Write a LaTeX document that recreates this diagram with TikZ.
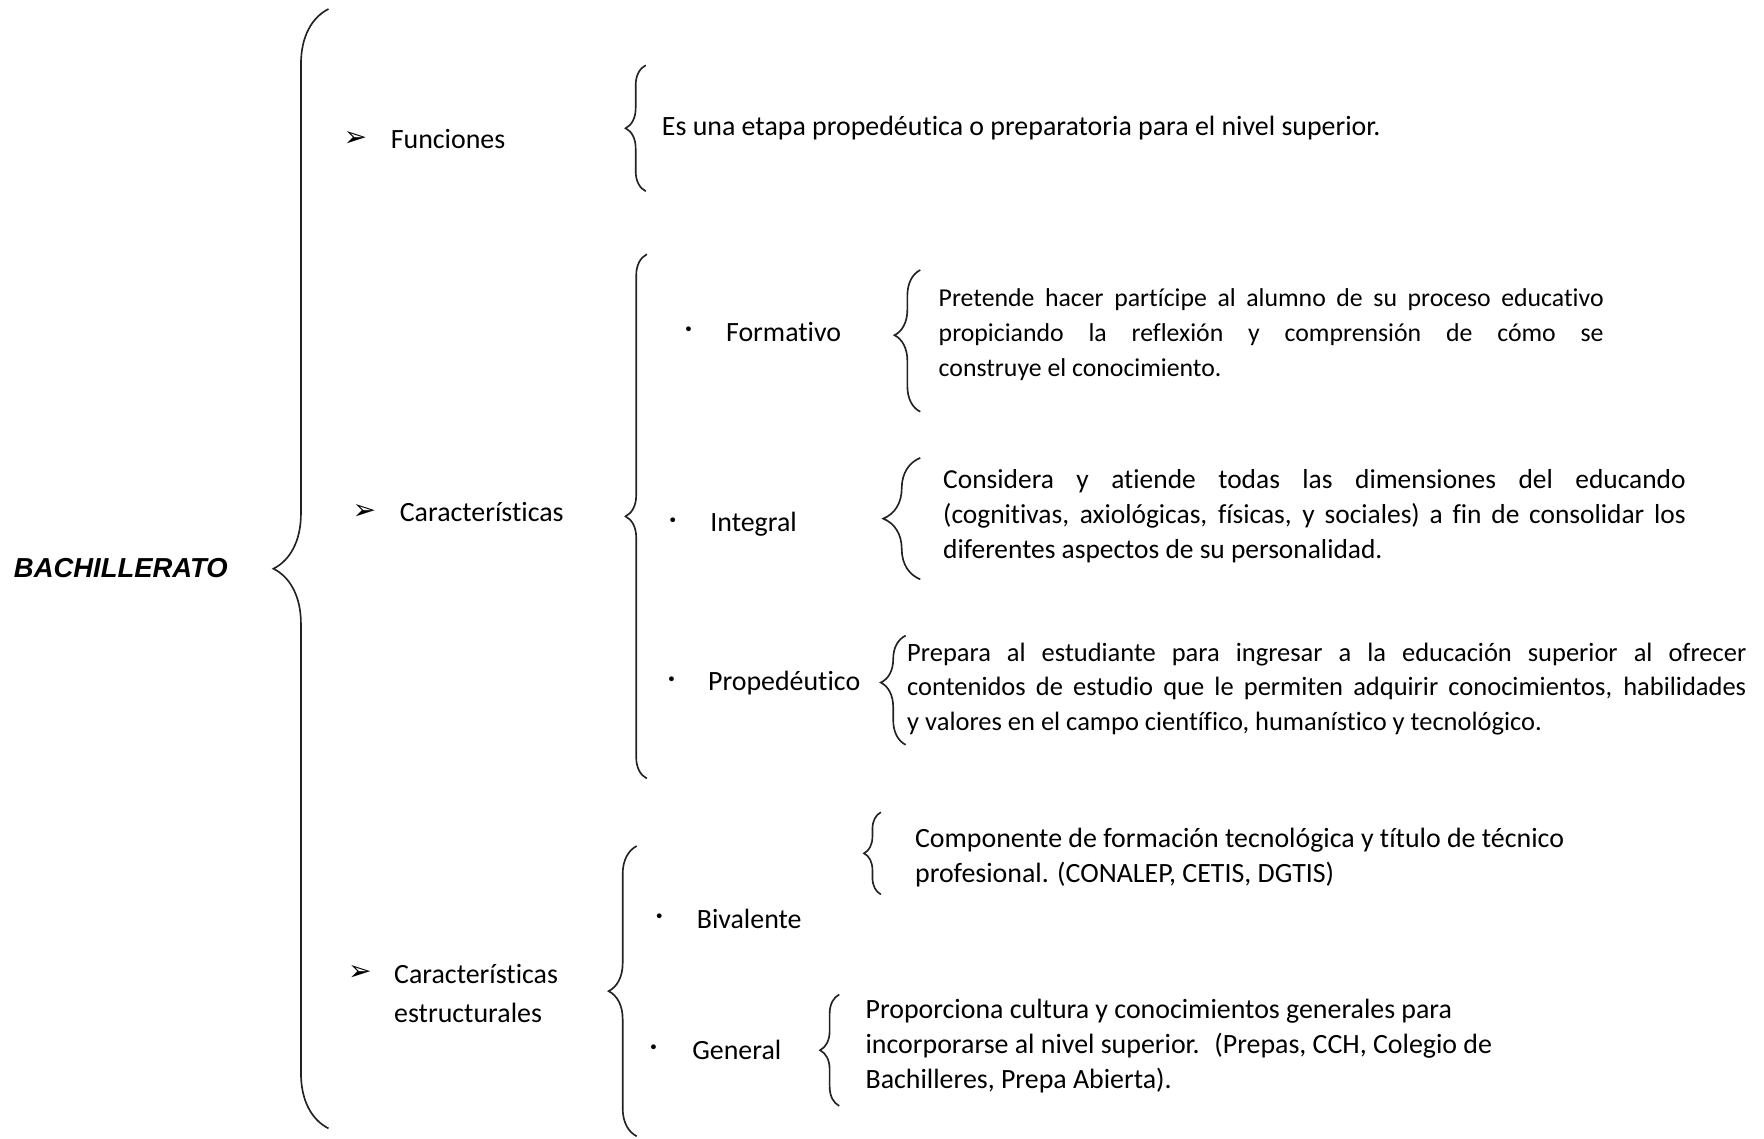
\documentclass[tikz,border=0pt]{standalone}
\usepackage{xcolor}
\usepackage{fontspec}
\setmainfont{Carlito}[Ligatures=CommonOff]
\newfontfamily\dingfont{DejaVu Sans}
\newfontfamily\titlefont{Liberation Sans}
\usepackage{tikz}
\usetikzlibrary{positioning, decorations.pathreplacing}
\definecolor{inkgray}{HTML}{222222}

\tikzset{
  brc/.style={draw=inkgray, line width=0.7pt, decorate,
              decoration={brace, amplitude=#1}},
  lbl/.style={anchor=west, inner sep=0pt, font=\fontsize{11.9}{14.9}\selectfont},
  para/.style={anchor=west, inner sep=0pt, text width=#1, align=justify},
  arrowmark/.style={anchor=center, inner sep=0pt, font=\dingfont\fontsize{12}{12}\selectfont},
  dotmark/.style={anchor=center, inner sep=0pt, font=\bfseries\fontsize{11}{11}\selectfont}
}

\begin{document}
\begin{tikzpicture}[x=0.48pt, y=-0.48pt]
    \path[fill=white] (0,0) rectangle (1568,1012);
    \useasboundingbox (0,0) rectangle (1568,1012);

    \node[anchor=west, inner sep=0pt, font=\titlefont\bfseries\itshape\fontsize{11.7}{14}\selectfont]
      (bach) at (12,505) {BACHILLERATO};

    \coordinate (mainT) at (292,8);
    \coordinate (mainB) at (292,1003);
    \draw[brc=23.5pt] (mainB) -- (mainT);

    % Funciones
    \node[arrowmark] (a1) at (316,124) {➢};
    \node[lbl] (fun) at (347,124) {Funciones};
    \coordinate (funT) at (574,58);
    \coordinate (funB) at (574,170);
    \draw[brc=8.6pt] (funB) -- (funT);
    \node[lbl] (funtxt) at (588,114)
      {Es una etapa propedéutica o preparatoria para el nivel superior.};

    % Caracteristicas
    \node[arrowmark] (a2) at (324,455) {➢};
    \node[lbl] (car) at (355,455) {Características};
    \coordinate (carT) at (575,226);
    \coordinate (carB) at (575,692);
    \draw[brc=9.1pt] (carB) -- (carT);

    \node[dotmark] (d1) at (612,295) {·};
    \node[lbl] (form) at (645,295) {Formativo};
    \coordinate (formT) at (818,240);
    \coordinate (formB) at (818,366);
    \draw[brc=11pt, decoration={aspect=0.54}] (formB) -- (formT);
    \node[para=283.7pt, font=\fontsize{11}{14.9}\selectfont] (formtxt) at (834,297.5)
      {Pretende hacer partícipe al alumno de su proceso educativo\linebreak
       propiciando la reflexión y comprensión de cómo se\linebreak
       construye el conocimiento.};

    \node[dotmark] (d2) at (598,465) {·};
    \node[lbl] (integ) at (631,466) {Integral};
    \coordinate (integT) at (818,407);
    \coordinate (integB) at (818,515);
    \draw[brc=15.8pt] (integB) -- (integT);
    \node[para=316.8pt, font=\fontsize{11.7}{14.9}\selectfont] (integtxt) at (838,458.5)
      {Considera y atiende todas las dimensiones del educando\linebreak
       (cognitivas, axiológicas, físicas, y sociales) a fin de consolidar los\linebreak
       diferentes aspectos de su personalidad.};

    \node[dotmark] (d3) at (597,606) {·};
    \node[lbl] (prop) at (629,607) {Propedéutico};
    \coordinate (propT) at (805,565);
    \coordinate (propB) at (805,662);
    \draw[brc=10.6pt, decoration={aspect=0.57}] (propB) -- (propT);
    \node[para=358pt, font=\fontsize{11.3}{14.9}\selectfont] (proptxt) at (806,612.5)
      {Prepara al estudiante para ingresar a la educación superior al ofrecer\linebreak
       contenidos de estudio que le permiten adquirir conocimientos, habilidades\linebreak
       y valores en el campo científico, humanístico y tecnológico.};

    % Caracteristicas estructurales
    \node[arrowmark] (a3) at (320,865) {➢};
    \node[lbl, align=left, font=\fontsize{11.9}{16.8}\selectfont] (est) at (350,883)
      {Características\\estructurales};
    \coordinate (estT) at (566,752);
    \coordinate (estB) at (566,1010);
    \draw[brc=12pt] (estB) -- (estT);

    \node[dotmark] (d4) at (586,817) {·};
    \node[lbl] (biv) at (619,817) {Bivalente};
    \coordinate (bivT) at (783,722);
    \coordinate (bivB) at (783,795);
    \draw[brc=7.2pt] (bivB) -- (bivT);
    \node[lbl, align=left] (bivtxt) at (813,762)
      {Componente de formación tecnológica y título de técnico\\
       profesional. (CONALEP, CETIS, DGTIS)};

    \node[dotmark] (d5) at (581,933) {·};
    \node[lbl] (gen) at (615,933) {General};
    \coordinate (genT) at (746,884);
    \coordinate (genB) at (746,983);
    \draw[brc=8.2pt] (genB) -- (genT);
    \node[lbl, align=left] (gentxt) at (769,930)
      {Proporciona cultura y conocimientos generales para\\
       incorporarse al nivel superior.~ (Prepas, CCH, Colegio de\\
       Bachilleres, Prepa Abierta).};
  \end{tikzpicture}
\end{document}
